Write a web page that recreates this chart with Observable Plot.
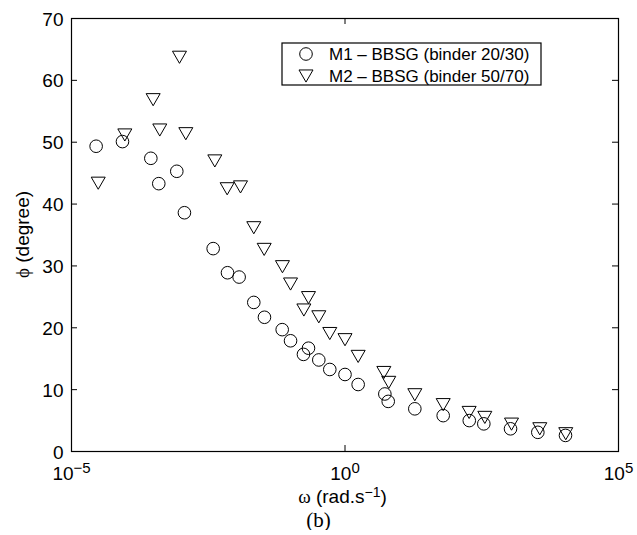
<!DOCTYPE html>
<html><head><meta charset="utf-8">
<script src="https://cdn.jsdelivr.net/npm/d3@7"></script>
<script src="https://cdn.jsdelivr.net/npm/@observablehq/plot@0.6"></script>
<style>
body{margin:0;background:#fff;}
#chart svg{display:block;}
#cap{font-family:"Liberation Serif","Times New Roman",serif;font-size:21px;line-height:20px;text-align:center;width:637px;margin-top:0;color:#000;}
</style></head><body>
<div id="chart"></div>
<div id="cap">(b)</div>
<script>
// M1 – BBSG (binder 20/30): circles
const omegaM1 = [2.82e-5, 8.55e-5, 2.82e-4, 3.94e-4, 8.41e-4, 1.16e-3, 3.89e-3, 7.11e-3, 1.16e-2, 2.15e-2, 3.37e-2, 7.11e-2, 0.101, 0.174, 0.215, 0.332, 0.527, 1.0, 1.74, 5.35, 6.17, 18.9, 62.4, 187, 345, 1062, 3350, 10740];
const phiM1   = [49.35, 50.1, 47.4, 43.3, 45.3, 38.6, 32.8, 28.9, 28.2, 24.1, 21.7, 19.7, 17.9, 15.7, 16.7, 14.8, 13.26, 12.45, 10.83, 9.3, 8.1, 6.9, 5.8, 5.0, 4.47, 3.67, 3.1, 2.6];
// M2 – BBSG (binder 50/70): down triangles
const omegaM2 = [3.08e-5, 9.44e-5, 3.11e-4, 4.11e-4, 9.42e-4, 1.23e-3, 4.17e-3, 7.01e-3, 1.23e-2, 2.15e-2, 3.33e-2, 7.19e-2, 0.101, 0.177, 0.215, 0.332, 0.527, 1.0, 1.74, 5.13, 6.31, 18.9, 62.4, 186, 360, 1107, 3640, 10860];
const phiM2   = [43.7, 51.5, 57.2, 52.3, 64.06, 51.7, 47.3, 42.8, 43.1, 36.5, 33.0, 30.2, 27.4, 23.2, 25.2, 22.1, 19.4, 18.4, 15.7, 13.1, 11.5, 9.5, 7.9, 6.64, 5.84, 4.75, 4.0, 3.2];
const seriesLabels = ["M1 \u2013 BBSG (binder 20/30)", "M2 \u2013 BBSG (binder 50/70)"];
const xTicks = [1e-5, 1, 1e5];
const yTicks = [0, 10, 20, 30, 40, 50, 60, 70];

const data1 = omegaM1.map((w, i) => ({w, phi: phiM1[i]}));
const data2 = omegaM2.map((w, i) => ({w, phi: phiM2[i]}));

const triDown = {draw(ctx, size) {
  const y = Math.sqrt(size / (3 * Math.sqrt(3)));
  ctx.moveTo(0, 2 * y);
  ctx.lineTo(-Math.sqrt(3) * y, -y);
  ctx.lineTo(Math.sqrt(3) * y, -y);
  ctx.closePath();
}};

const W = 637, H = 510, mL = 71, mR = 19, mT = 18, mB = 59;
const fw = W - mL - mR, fh = H - mT - mB;
const rC = 6.3, rT = 5.2;
const sans = "'Liberation Sans', Arial, Helvetica, sans-serif";
const serif = "'Liberation Serif', 'DejaVu Serif', 'Times New Roman', serif";

const chart = Plot.plot({
  width: W, height: H,
  marginLeft: mL, marginRight: mR, marginTop: mT, marginBottom: mB,
  style: {fontFamily: sans, fontSize: "19px", color: "black", background: "white"},
  x: {type: "log", domain: [1e-5, 1e5]},
  y: {domain: [0, 70]},
  marks: [
    Plot.dot(data1, {x: "w", y: "phi", r: rC, stroke: "black", strokeWidth: 1, fill: "none"}),
    Plot.dot(data2, {x: "w", y: "phi", r: rT, symbol: triDown, stroke: "black", strokeWidth: 1, fill: "none"}),
    Plot.tickY(yTicks, {y: d => d, insetRight: fw - 6, stroke: "black"}),
    Plot.tickY(yTicks, {y: d => d, insetLeft: fw - 6, stroke: "black"}),
    Plot.tickX(xTicks, {x: d => d, insetTop: fh - 6, stroke: "black"}),
    Plot.tickX(xTicks, {x: d => d, insetBottom: fh - 6, stroke: "black"}),
    Plot.axisY(yTicks, {tickSize: 0, tickPadding: 8, label: null, dy: 1}),
    Plot.axisX(xTicks, {tickSize: 0, tickPadding: 15, label: null, tickFormat: d => "10^" + Math.round(Math.log10(d))}),
    Plot.frame({stroke: "black", strokeWidth: 1.2})
  ]
});
document.getElementById("chart").appendChild(chart);

const svg = d3.select(chart);
// superscript exponents on x tick labels
svg.selectAll("text").each(function() {
  const m = /^10\^(-?\d+)$/.exec(this.textContent.trim());
  if (!m) return;
  const el = d3.select(this);
  el.text(null);
  el.append("tspan").text("10");
  el.append("tspan").attr("dy", "-7.5").attr("font-size", "15px").text(m[1].replace("-", "\u2212"));
});

// x axis label
const xl = svg.append("text").attr("x", mL + fw / 2 - 2).attr("y", 503).attr("text-anchor", "middle")
  .attr("font-family", sans).attr("font-size", "19px").attr("fill", "black");
xl.append("tspan").attr("font-family", serif).text("\u03c9");
xl.append("tspan").text(" (rad.s");
xl.append("tspan").attr("dy", "-6").attr("font-size", "14px").text("\u22121");
xl.append("tspan").attr("dy", "6").text(")");

// y axis label
const yl = svg.append("text").attr("transform", `translate(29,${mT + fh / 2}) rotate(-90)`).attr("text-anchor", "middle")
  .attr("font-family", sans).attr("font-size", "19px").attr("fill", "black");
yl.append("tspan").attr("font-family", serif).text("\u03d5");
yl.append("tspan").text(" (degree)");

// legend
const lg = svg.append("g").attr("font-family", sans).attr("font-size", "17px").attr("text-anchor", "start");
lg.append("rect").attr("x", 282).attr("y", 43).attr("width", 259).attr("height", 42)
  .attr("fill", "white").attr("stroke", "black").attr("stroke-width", 1.2);
lg.append("path").attr("transform", "translate(306,54)")
  .attr("d", d3.symbol(d3.symbolCircle, Math.PI * rC * rC)())
  .attr("fill", "none").attr("stroke", "black");
lg.append("path").attr("transform", "translate(306,74)")
  .attr("d", d3.symbol(triDown, Math.PI * rT * rT)())
  .attr("fill", "none").attr("stroke", "black");
lg.append("text").attr("x", 329).attr("y", 60).attr("fill", "black").text(seriesLabels[0]);
lg.append("text").attr("x", 329).attr("y", 81.5).attr("fill", "black").text(seriesLabels[1]);
</script>
</body></html>
